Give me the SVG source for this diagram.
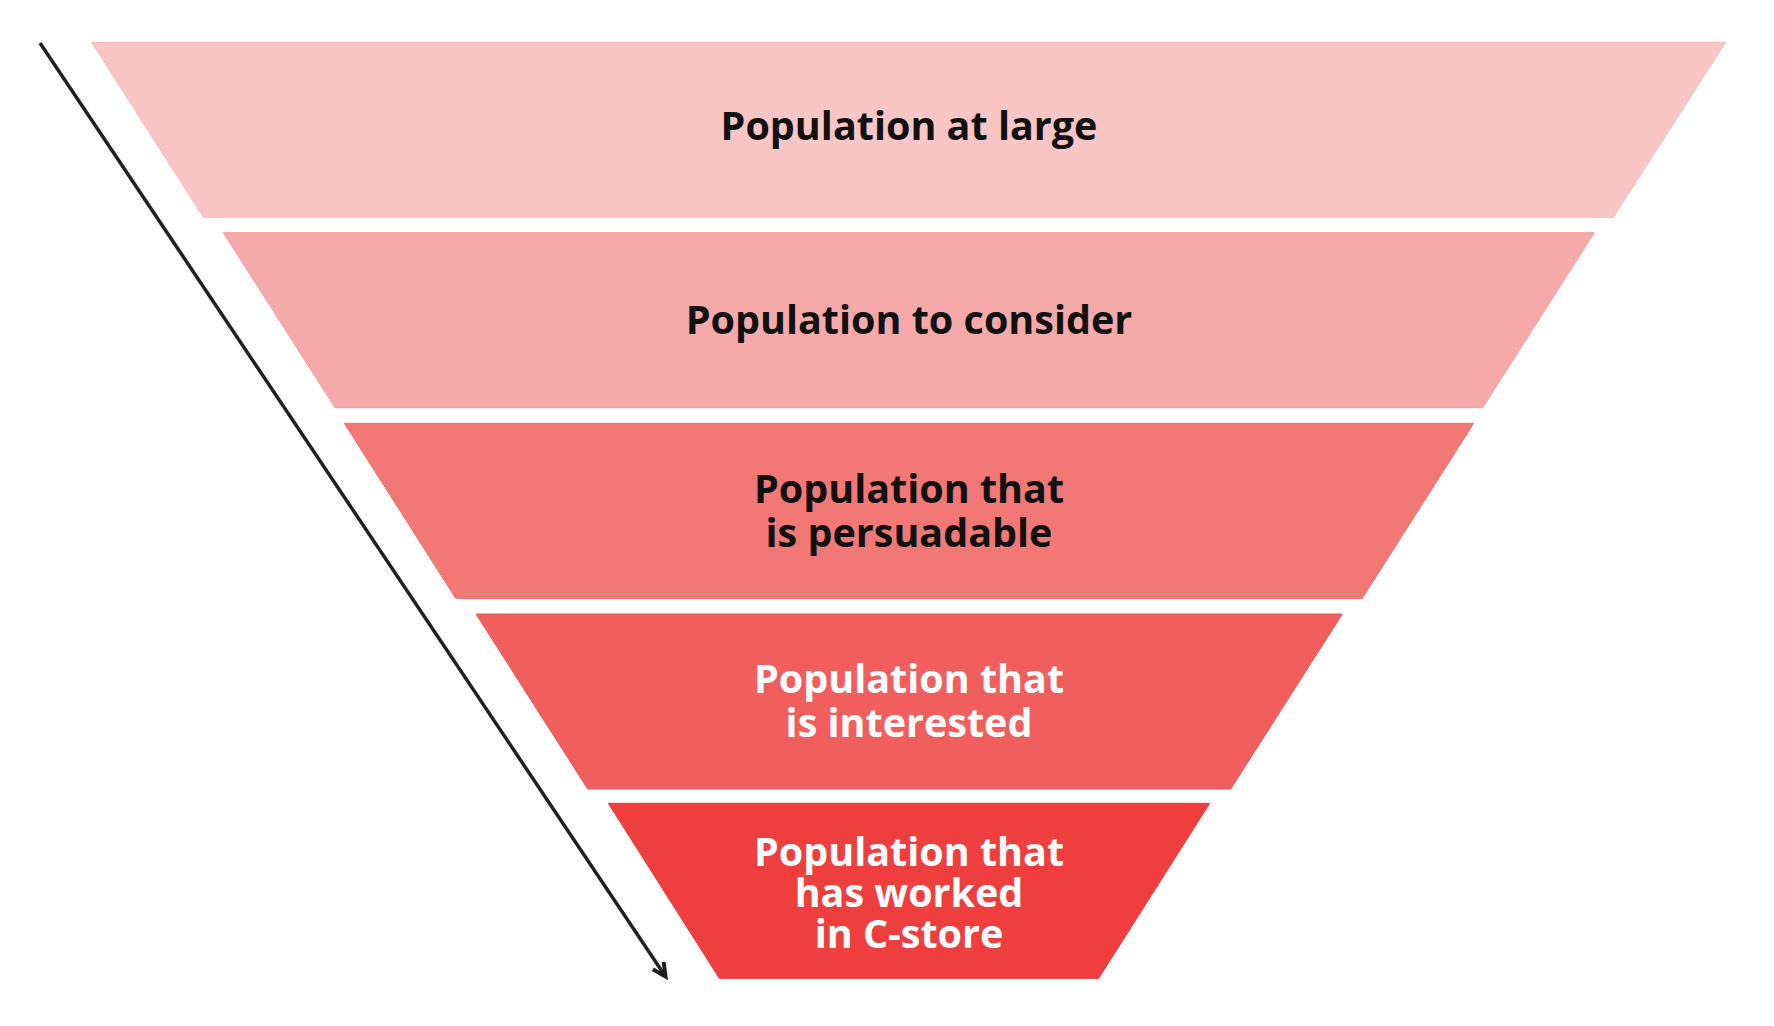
<svg xmlns="http://www.w3.org/2000/svg" width="1774" height="1026" viewBox="0 0 1774 1026">
<style>
.lbl{font-family:"Open Sans","Noto Sans","Liberation Sans",sans-serif;font-weight:700;font-size:39.5px;text-anchor:middle}
.dark{fill:#111111}
.light{fill:#ffffff}
.conn{fill:none;stroke:#231f20;stroke-width:3.5}
</style>
<defs>
<marker id="arr" markerUnits="userSpaceOnUse" markerWidth="30" markerHeight="30" viewBox="-20 -15 30 30" refX="0" refY="0" orient="auto">
<path d="M-13,-6.5 L0,0 L-13,6.5" fill="none" stroke="#231f20" stroke-width="4" stroke-linejoin="miter"/>
</marker>
</defs>
<rect width="1774" height="1026" fill="#ffffff"/>
<g id="band1">
<polygon points="91.7,42.3 1725.7,42.3 1613.3,217.3 203.3,217.3" fill="#f9c5c5" stroke="#f7b9b9" stroke-width="1"/>
<text class="lbl dark" x="909" y="140">Population at large</text>
</g>
<g id="band2">
<polygon points="223.3,232.7 1594.3,232.7 1482.7,407.7 335,407.7" fill="#f6a9a9" stroke="#f49d9d" stroke-width="1"/>
<text class="lbl dark" x="909" y="334">Population to consider</text>
</g>
<g id="band3">
<polygon points="344.3,423.3 1473.7,423.3 1362.3,598.3 455.7,598.3" fill="#f27876" stroke="#f06c6a" stroke-width="1"/>
<text class="lbl dark" x="909" y="502.5">Population that</text>
<text class="lbl dark" x="909" y="546.5">is persuadable</text>
</g>
<g id="band4">
<polygon points="476,614 1342.3,614 1230.7,789 587.7,789" fill="#f05e5e" stroke="#ee5353" stroke-width="1"/>
<text class="lbl light" x="909" y="692.5">Population that</text>
<text class="lbl light" x="909" y="736.5">is interested</text>
</g>
<g id="band5">
<polygon points="608.3,803.3 1209.7,803.3 1098.7,978.3 719.3,978.3" fill="#ee3e3e" stroke="#ec3535" stroke-width="1"/>
<text class="lbl light" x="909" y="866">Population that</text>
<text class="lbl light" x="909" y="907">has worked</text>
<text class="lbl light" x="909" y="948">in C-store</text>
</g>
<g id="connectors">
<line class="conn" x1="40" y1="43" x2="665.5" y2="976.5" marker-end="url(#arr)"/>
</g>
</svg>
